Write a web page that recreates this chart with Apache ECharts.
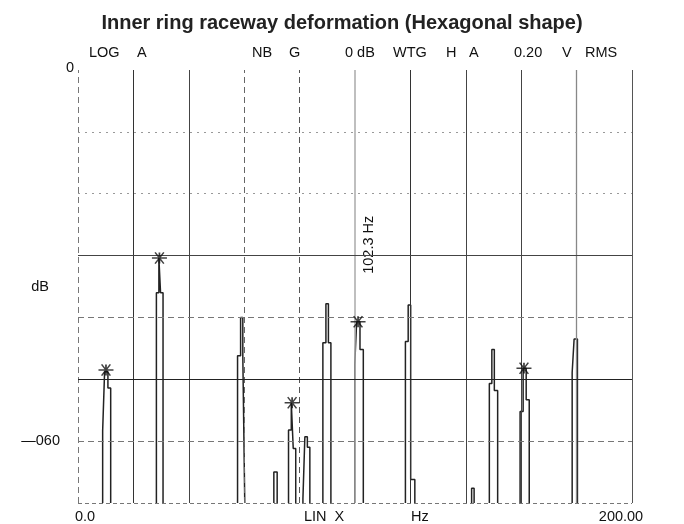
<!DOCTYPE html>
<html>
<head>
<meta charset="utf-8">
<script src="https://cdn.jsdelivr.net/npm/echarts@6/dist/echarts.min.js"></script>
<style>
  html, body { margin: 0; padding: 0; background: #fff; }
  #chart { width: 684px; height: 524px; }
</style>
</head>
<body>
<div id="chart"></div>
<script>
// spectrum lines: bin edges (Hz) and the level of each bin (dB)
const spikeEdges = [
  [8.9, 9.6, 10.8, 11.8],
  [28.3, 29.2, 29.8, 30.7],
  [57.6, 58.7, 59.5, 60.2],
  [70.7, 71.9],
  [76.0, 77.0, 77.7, 78.6],
  [81.2, 81.9, 82.8, 83.7],
  [88.4, 89.5, 90.4, 91.3],
  [99.9, 100.6, 101.8, 103.0],
  [118.2, 119.2, 120.1, 121.6],
  [142.1, 143.0],
  [148.5, 149.4, 150.3, 151.5],
  [159.6, 160.7, 161.8, 162.9],
  [178.4, 179.1, 180.3]
]
const spikeLevels = [
  [-58.3, -48.8, -51.4],
  [-36.0, -30.4, -36.0],
  [-46.2, -40.0, -46.2],
  [-65.0],
  [-58.2, -53.8, -61.2],
  [-69.3, -59.3, -61.0],
  [-44.1, -37.8, -44.1],
  [-47.7, -40.7, -45.2],
  [-43.9, -38.0, -66.2],
  [-67.6],
  [-50.7, -45.2, -51.8],
  [-55.2, -48.2, -53.3],
  [-48.9, -43.5]
]
// cursor marks (stars)
const markFreq = [10.1, 29.4, 77.3, 101.1, 161.0]
const markLevel = [-48.5, -30.4, -53.8, -40.7, -48.2]
const cursorLabel = '102.3 Hz'

// header of the analyser print
const headerTexts = ['LOG', 'A', 'NB', 'G', '0 dB', 'WTG', 'H', 'A', '0.20', 'V', 'RMS']
const headerX = [89, 137, 252, 289, 345, 393, 446, 469, 514, 562, 585]

const floor = -70

// build the outline of each spectral line from its bins
function outline(edges, levels) {
  const pts = [[edges[0], floor]]
  levels.forEach((lv, i) => {
    pts.push([edges[i], lv])
    pts.push([edges[i + 1], lv])
  })
  pts.push([edges[edges.length - 1], floor])
  return pts
}

const chart = echarts.init(document.getElementById('chart'))

const font = 'Liberation Sans, Arial, sans-serif'
const solid = (c, w) => ({ color: c, width: w || 1, type: 'solid' })
const dash = (c) => ({ color: c, width: 1, type: [6, 4] })
const dot = (c) => ({ color: c, width: 1, type: [2, 5] })

const gridLines = [
  { xAxis: 0, lineStyle: dash('#777') },
  { xAxis: 20, lineStyle: solid('#333') },
  { xAxis: 40, lineStyle: solid('#444') },
  { xAxis: 60, lineStyle: dash('#666') },
  { xAxis: 80, lineStyle: dash('#555') },
  { xAxis: 100, lineStyle: solid('#aaa', 1.5) },
  { xAxis: 120, lineStyle: solid('#333') },
  { xAxis: 140, lineStyle: solid('#444') },
  { xAxis: 160, lineStyle: solid('#444') },
  { xAxis: 180, lineStyle: solid('#888', 1.3) },
  { xAxis: 200, lineStyle: solid('#555') },
  { yAxis: -10, lineStyle: dot('#999') },
  { yAxis: -20, lineStyle: dot('#999') },
  { yAxis: -30, lineStyle: solid('#444') },
  { yAxis: -40, lineStyle: dash('#777') },
  { yAxis: -50, lineStyle: solid('#222') },
  { yAxis: -60, lineStyle: dash('#777') },
  { yAxis: -70, lineStyle: { color: '#777', width: 1, type: [4, 3] } }
]

const series = spikeEdges.map((edges, i) => ({
  type: 'line',
  data: outline(edges, spikeLevels[i]),
  symbol: 'none',
  lineStyle: { color: '#222', width: 1.5 },
  z: 3
}))
series[0].markLine = {
  silent: true,
  symbol: 'none',
  label: { show: false },
  data: gridLines
}
series.push({
  type: 'scatter',
  data: markFreq.map((f, i) => [f, markLevel[i]]),
  symbol: 'path://M0,4.3 L12,4.3 L12,5.7 L0,5.7 Z M2,0.2 L3,-0.5 L10,9.8 L9,10.5 Z M9,-0.5 L10,0.2 L3,10.5 L2,9.8 Z M5.3,0 L6.7,0 L6.7,10 L5.3,10 Z',
  symbolSize: [15, 12],
  itemStyle: { color: '#111' },
  z: 5
})

const txt = { fill: '#111', fontSize: 14.5, fontFamily: font }

const option = {
  animation: false,
  title: {
    text: 'Inner ring raceway deformation (Hexagonal shape)',
    left: 'center',
    top: 8,
    textStyle: { fontSize: 20, fontWeight: 'bold', color: '#222', fontFamily: font }
  },
  grid: { left: 78, right: 52, top: 70, bottom: 21 },
  xAxis: {
    type: 'value',
    min: 0,
    max: 200,
    interval: 200,
    axisLine: { show: false },
    axisTick: { show: false },
    splitLine: { show: false },
    axisLabel: {
      margin: 6,
      formatter: (v) => (v === 0 ? '{a|0.0}' : '{b|200.00}'),
      rich: {
        a: { color: '#111', fontSize: 14.5, fontFamily: font, padding: [0, 0, 0, 14] },
        b: { color: '#111', fontSize: 14.5, fontFamily: font, padding: [0, 22, 0, 0] }
      }
    }
  },
  yAxis: {
    type: 'value',
    min: -70,
    max: 0,
    interval: 10,
    name: 'dB',
    nameLocation: 'middle',
    nameRotate: 0,
    nameGap: 38,
    nameMoveOverlap: false,
    nameTextStyle: { color: '#111', fontSize: 14.5, fontFamily: font, align: 'center' },
    axisLine: { show: false },
    axisTick: { show: false },
    splitLine: { show: false },
    axisLabel: {
      margin: 4,
      formatter: (v) => (v === 0 ? '{a|0}' : v === -60 ? '{b|—060}' : ''),
      rich: {
        a: { color: '#111', fontSize: 14.5, fontFamily: font, padding: [0, 0, 4, 0] },
        b: { color: '#111', fontSize: 14.5, fontFamily: font, padding: [0, 14, 0, 0] }
      }
    }
  },
  series: series,
  graphic: headerTexts.map((t, i) => ({
    type: 'text',
    left: headerX[i],
    top: 45,
    style: Object.assign({ text: t }, txt)
  })).concat([
    { type: 'text', left: 304, top: 509, style: Object.assign({ text: 'LIN  X' }, txt) },
    { type: 'text', left: 411, top: 509, style: Object.assign({ text: 'Hz' }, txt) }
  ])
}

chart.setOption(option)

// cursor frequency readout, written upright beside the marked line
const p = chart.convertToPixel({ gridIndex: 0 }, [markFreq[3], markLevel[3]])
chart.setOption({
  graphic: option.graphic.concat([{
    type: 'text',
    x: p[0] + 3,
    y: p[1] - 48,
    rotation: Math.PI / 2,
    style: Object.assign({ text: cursorLabel, textVerticalAlign: 'top' }, txt)
  }])
})

window.addEventListener('resize', () => {
  chart.resize()
})
</script>
</body>
</html>
